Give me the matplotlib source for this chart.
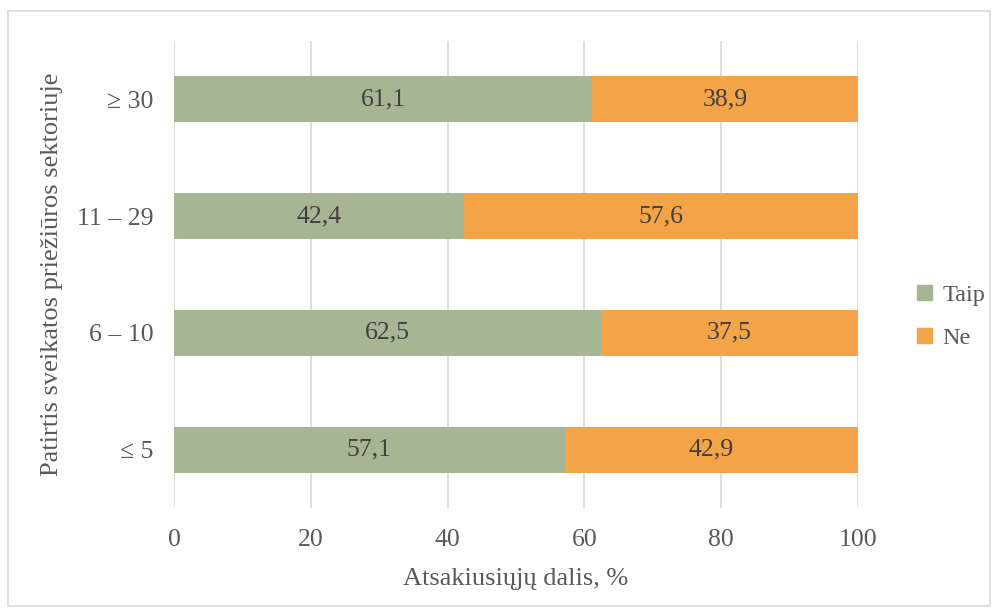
import matplotlib
matplotlib.use("Agg")
import matplotlib.pyplot as plt
from matplotlib.patches import Rectangle, Patch

categories = ["≤ 5", "6 – 10", "11 – 29", "≥ 30"]
taip = [57.1, 62.5, 42.4, 61.1]
ne = [42.9, 37.5, 57.6, 38.9]
xticks = [0, 20, 40, 60, 80, 100]

green = "#A6B593"
orange = "#F2A446"
txt = "#595959"
grid = "#D9D9D9"

plt.rcParams['font.family'] = ['Liberation Serif', 'DejaVu Serif']

W, H = 995, 614
fig = plt.figure(figsize=(W/100, H/100), dpi=100)
fig.add_artist(Rectangle((8/W, 1 - 606/H), (990-8)/W, (606-11)/H, transform=fig.transFigure,
                         fill=False, edgecolor="#D9D9D9", linewidth=1.2))

ax = fig.add_axes([174/W, 1 - 508/H, (858-174)/W, (508-41)/H])
y = range(len(categories))
bh = 0.395
ax.barh(y, taip, height=bh, color=green, label="Taip", zorder=3)
ax.barh(y, ne, left=taip, height=bh, color=orange, label="Ne", zorder=3)
for i in y:
    ax.text(taip[i]/2, i, f"{taip[i]:.1f}".replace(".", ","), ha="center", va="center",
            fontsize=18.5, color="#404040", zorder=4)
    ax.text(taip[i] + ne[i]/2, i, f"{ne[i]:.1f}".replace(".", ","), ha="center", va="center",
            fontsize=18.5, color="#404040", zorder=4)

ax.set_xlim(0, 100)
ax.set_ylim(-0.5, len(categories) - 0.5)
ax.set_xticks(xticks)
ax.set_xticklabels([str(v) for v in xticks])
ax.set_yticks(list(y))
ax.set_yticklabels(categories)
ax.tick_params(axis="both", length=0, labelsize=18.5, colors=txt)
ax.tick_params(axis="x", pad=15)
ax.tick_params(axis="y", pad=15)
ax.grid(axis="x", color=grid, linewidth=1.2, zorder=0)
for s in ax.spines.values():
    s.set_visible(False)

ax.set_xlabel("Atsakiusiųjų dalis, %", fontsize=19, color=txt, labelpad=12)
ax.set_ylabel("Patirtis sveikatos priežiūros sektoriuje", fontsize=19, color=txt, labelpad=10)

handles = [Patch(color=green), Patch(color=orange)]
fig.legend(handles, ["Taip", "Ne"], loc="center left", bbox_to_anchor=(917/W, 1 - 317/H),
           frameon=False, fontsize=17.5, labelcolor=txt, handlelength=0.6, handleheight=0.6,
           handletextpad=0.45, labelspacing=0.9, borderpad=0, borderaxespad=0)

fig.savefig("out.png", dpi=100, facecolor="white")
